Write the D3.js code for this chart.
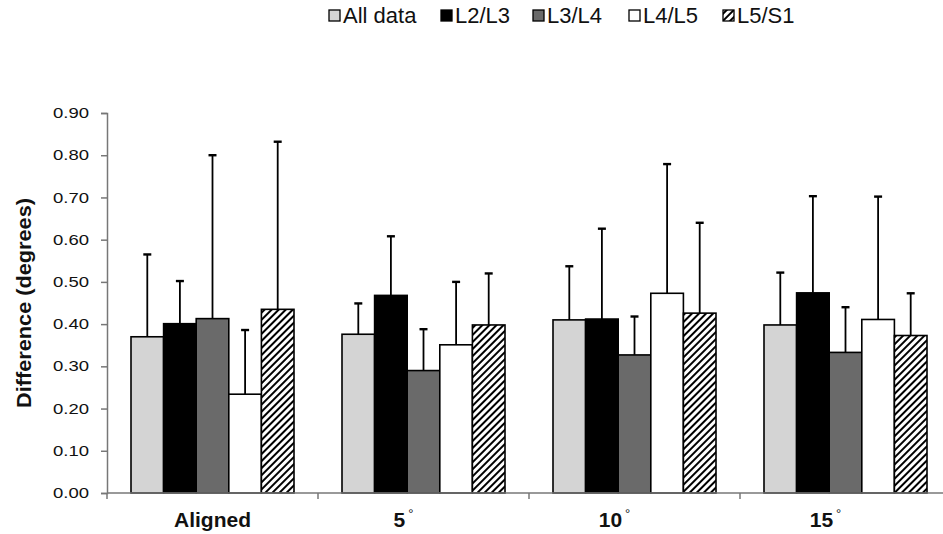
<!DOCTYPE html>
<html>
<head>
<meta charset="utf-8">
<script src="https://cdn.jsdelivr.net/npm/d3@7"></script>
<style>
  body { margin: 0; background: #fff; }
  svg { font-family: 'Liberation Sans', Arial, sans-serif; }
</style>
</head>
<body>
<svg id="chart" width="943" height="534"></svg>
<script>
const categories = ['Aligned', '5', '10', '15']
const series = ['All data', 'L2/L3', 'L3/L4', 'L4/L5', 'L5/S1']
const allData = [0.37, 0.376, 0.41, 0.398]
const allDataErr = [0.565, 0.449, 0.537, 0.522]
const l2l3 = [0.401, 0.468, 0.412, 0.474]
const l2l3Err = [0.502, 0.608, 0.626, 0.703]
const l3l4 = [0.413, 0.29, 0.327, 0.333]
const l3l4Err = [0.80, 0.388, 0.418, 0.44]
const l4l5 = [0.234, 0.351, 0.473, 0.411]
const l4l5Err = [0.386, 0.50, 0.779, 0.702]
const l5s1 = [0.435, 0.398, 0.426, 0.373]
const l5s1Err = [0.832, 0.52, 0.64, 0.473]
const yTicks = [0, 0.1, 0.2, 0.3, 0.4, 0.5, 0.6, 0.7, 0.8, 0.9]

const means = [allData, l2l3, l3l4, l4l5, l5s1]
const tops = [allDataErr, l2l3Err, l3l4Err, l4l5Err, l5s1Err]
const fills = ['#d4d4d4', '#000000', '#6a6a6a', '#ffffff', 'url(#hatch)']

let rows = []
categories.forEach((c, i) => {
  series.forEach((s, j) => {
    rows.push({ cat: c, ser: s, v: means[j][i], top: tops[j][i], j: j })
  })
})

const svg = d3.select('#chart')
const margin = { left: 107, top: 113, bottom: 41 }
const height = +svg.attr('height')

const x = d3.scaleBand().domain(categories).range([margin.left, 951]).paddingInner(0).paddingOuter(0)
const xs = d3.scaleBand().domain(series).range([24, x.bandwidth() - 24])
const y = d3.scaleLinear().domain([0, 0.9]).range([height - margin.bottom, margin.top])

const defs = svg.append('defs')
defs.append('pattern')
  .attr('id', 'hatch')
  .attr('patternUnits', 'userSpaceOnUse')
  .attr('width', 5)
  .attr('height', 5)
  .attr('patternTransform', 'rotate(45)')
  .call(p => {
    p.append('rect').attr('width', 5).attr('height', 5).attr('fill', '#fff')
    p.append('line').attr('x1', 1).attr('y1', 0).attr('x2', 1).attr('y2', 5)
      .attr('stroke', '#000').attr('stroke-width', 2)
  })

// y axis
const yAxis = d3.axisLeft(y).tickValues(yTicks).tickFormat(d3.format('.2f')).tickSizeOuter(0).tickSize(6)
const yG = svg.append('g')
  .attr('transform', `translate(${margin.left},0)`)
  .call(yAxis)
yG.select('.domain').attr('stroke', '#777').attr('stroke-width', 1.5)
yG.selectAll('.tick line').attr('stroke', '#777').attr('stroke-width', 1.5)
yG.selectAll('.tick text')
  .attr('font-size', 14.5)
  .attr('fill', '#111')
  .attr('x', -18)
  .attr('textLength', 36)
  .attr('lengthAdjust', 'spacingAndGlyphs')

// bars
const groups = svg.append('g')
groups.selectAll('rect.bar')
  .data(rows)
  .enter().append('rect')
  .attr('class', 'bar')
  .attr('x', d => x(d.cat) + xs(d.ser))
  .attr('y', d => y(d.v))
  .attr('width', xs.bandwidth())
  .attr('height', d => y(0) - y(d.v))
  .attr('fill', d => fills[d.j])
  .attr('stroke', '#000')
  .attr('stroke-width', 1.6)

// error bars
const errG = svg.append('g').attr('stroke', '#000').attr('stroke-width', 1.8)
errG.selectAll('line.err')
  .data(rows)
  .enter().append('line')
  .attr('x1', d => x(d.cat) + xs(d.ser) + xs.bandwidth() / 2)
  .attr('x2', d => x(d.cat) + xs(d.ser) + xs.bandwidth() / 2)
  .attr('y1', d => y(d.v))
  .attr('y2', d => y(d.top))
errG.selectAll('line.cap')
  .data(rows)
  .enter().append('line')
  .attr('stroke-width', 2.4)
  .attr('x1', d => x(d.cat) + xs(d.ser) + xs.bandwidth() / 2 - 4)
  .attr('x2', d => x(d.cat) + xs(d.ser) + xs.bandwidth() / 2 + 4)
  .attr('y1', d => y(d.top))
  .attr('y2', d => y(d.top))

// x axis
const xG = svg.append('g').attr('transform', `translate(0,${y(0)})`)
xG.append('line')
  .attr('x1', margin.left).attr('x2', 951)
  .attr('stroke', '#777').attr('stroke-width', 1.5)
xG.selectAll('line.tk')
  .data(categories)
  .enter().append('line')
  .attr('x1', d => x(d)).attr('x2', d => x(d))
  .attr('y1', 0).attr('y2', 6)
  .attr('stroke', '#777').attr('stroke-width', 1.5)
const lab = xG.selectAll('text.cat')
  .data(categories)
  .enter().append('text')
  .attr('x', (d, i) => x(d) + x.bandwidth() / 2 - (i > 0 ? 20 : 0))
  .attr('y', 34)
  .attr('text-anchor', 'middle')
  .attr('font-size', 21)
  .attr('font-weight', 'bold')
  .attr('fill', '#111')
lab.append('tspan').text(d => d)
lab.filter((d, i) => i > 0).append('tspan')
  .attr('dx', 3)
  .attr('dy', -9)
  .attr('font-size', 13)
  .attr('font-weight', 'normal')
  .text('°')

// y label
svg.append('text')
  .attr('transform', `translate(31,${(y(0) + y(0.9)) / 2}) rotate(-90)`)
  .attr('text-anchor', 'middle')
  .attr('font-size', 20)
  .attr('font-weight', 'bold')
  .attr('fill', '#111')
  .attr('textLength', 210)
  .attr('lengthAdjust', 'spacingAndGlyphs')
  .text('Difference (degrees)')

// legend
const legendX = [329, 441, 533, 629, 723]
const leg = svg.append('g')
series.forEach((s, j) => {
  leg.append('rect')
    .attr('x', legendX[j]).attr('y', 10)
    .attr('width', 11).attr('height', 11)
    .attr('fill', fills[j])
    .attr('stroke', '#000').attr('stroke-width', 1.3)
  leg.append('text')
    .attr('x', legendX[j] + 14).attr('y', 23)
    .attr('font-size', 22)
    .attr('fill', '#111')
    .text(s)
})
</script>
</body>
</html>
